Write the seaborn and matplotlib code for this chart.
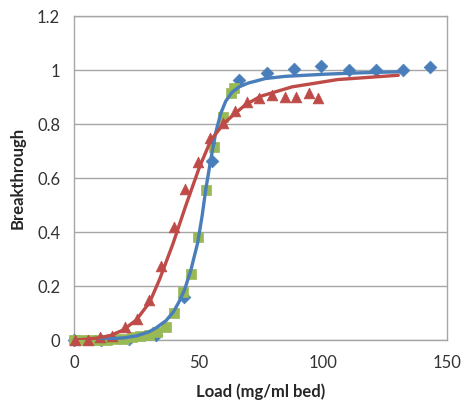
import os
import numpy as np
import pandas as pd
import matplotlib
matplotlib.use("Agg")
import matplotlib.pyplot as plt
import seaborn as sns

os.environ['MPLCONFIGDIR'] = '/tmp'

# measured points
blue_x = [0, 11, 22, 33, 44.4, 55.3, 66.4, 77.5, 88.4, 99.5, 110.4, 121.3, 132.4, 143.3]
blue_y = [0.0, 0.0, 0.005, 0.02, 0.16, 0.664, 0.963, 0.99, 1.004, 1.015, 1.0, 1.0, 1.0, 1.012]

green_x = [0, 3.3, 6.6, 10, 13.2, 16.5, 20, 23.2, 26.5, 30, 33.3, 37, 40.1, 43.7,
           47.1, 50, 53, 56.4, 59.7, 63, 64.4]
green_y = [0.0, 0.0, 0.0, 0.0, 0.0, 0.003, 0.005, 0.01, 0.015, 0.02, 0.03, 0.05, 0.10, 0.179,
           0.244, 0.38, 0.556, 0.714, 0.827, 0.914, 0.933]

red_x = [0.4, 5.5, 10.4, 15.3, 20.4, 25.3, 30.1, 35, 40, 44.8, 49.7, 54.6, 59.7, 64.8,
         69.7, 74.4, 79.7, 84.8, 89.3, 94.4, 98.1]
red_y = [0.0, 0.0, 0.01, 0.015, 0.05, 0.078, 0.148, 0.274, 0.42, 0.558, 0.66, 0.75, 0.805, 0.849,
         0.883, 0.895, 0.907, 0.90, 0.90, 0.916, 0.895]

# fitted curves
blue_fit_x = [0, 10, 20, 25, 30, 33, 37, 40, 42, 44.4, 47, 49.7, 51.5, 53, 55, 57, 59, 61,
              63.5, 66.4, 70, 77, 85, 101, 115, 131.6]
blue_fit_y = [0.0, 0.002, 0.008, 0.015, 0.03, 0.045, 0.072, 0.105, 0.138, 0.185, 0.26, 0.36, 0.46,
              0.56, 0.67, 0.77, 0.84, 0.885, 0.918, 0.938, 0.952, 0.969, 0.977, 0.985, 0.99, 0.994]

red_fit_x = [0, 5, 10, 15, 19.7, 25, 30.4, 34.4, 39.7, 45, 50.4, 55, 60, 64.4, 69, 75,
             87.7, 106, 130.4]
red_fit_y = [0.0, 0.003, 0.008, 0.018, 0.037, 0.074, 0.14, 0.225, 0.355, 0.5, 0.64, 0.74,
             0.8, 0.837, 0.872, 0.903, 0.938, 0.965, 0.981]

BLUE = "#4A7EBB"
RED = "#BE4B48"
GREEN = "#98B954"

sns.set_style("white")
plt.rcParams['font.family'] = ['Lato', 'DejaVu Sans']

fig = plt.figure(figsize=(4.72, 4.11), dpi=100)
ax = fig.add_axes([0.157, 0.1727, 0.79, 0.788])

sns.scatterplot(x=blue_x, y=blue_y, marker="D", s=42, color=BLUE, edgecolor=BLUE,
                linewidth=0.5, ax=ax, clip_on=False, zorder=3)
sns.scatterplot(x=green_x, y=green_y, marker="s", s=50, color=GREEN, edgecolor=GREEN,
                linewidth=0.5, ax=ax, clip_on=False, zorder=3)
sns.scatterplot(x=red_x, y=red_y, marker="^", s=60, color=RED, edgecolor=RED,
                linewidth=0.5, ax=ax, clip_on=False, zorder=4)

sns.lineplot(x=blue_fit_x, y=blue_fit_y, color=BLUE, linewidth=2.4, ax=ax,
             estimator=None, sort=False, zorder=5)
sns.lineplot(x=red_fit_x, y=red_fit_y, color=RED, linewidth=2.4, ax=ax,
             estimator=None, sort=False, zorder=5)

ax.set_xlim(0, 150)
ax.set_ylim(0, 1.2)
ax.set_xticks([0, 50, 100, 150])
ax.set_yticks([0, 0.2, 0.4, 0.6, 0.8, 1.0, 1.2])
ax.set_yticklabels(["0", "0.2", "0.4", "0.6", "0.8", "1", "1.2"])
ax.yaxis.grid(True, color="#A6A6A6", linewidth=1)
ax.set_axisbelow(True)
for sp in ax.spines.values():
    sp.set_color("#A6A6A6")
    sp.set_linewidth(1)
ax.tick_params(axis="x", direction="inout", length=6, color="#A6A6A6",
               labelsize=12, pad=8, labelcolor="#333333")
ax.tick_params(axis="y", length=0, labelsize=12, pad=10, labelcolor="#333333")

ax.set_xlabel("Load (mg/ml bed)", fontsize=12, fontweight="bold", labelpad=9)
ax.set_ylabel("Breakthrough", fontsize=12, fontweight="bold", labelpad=8)

plt.savefig("out.png", dpi=100)
plt.close()
